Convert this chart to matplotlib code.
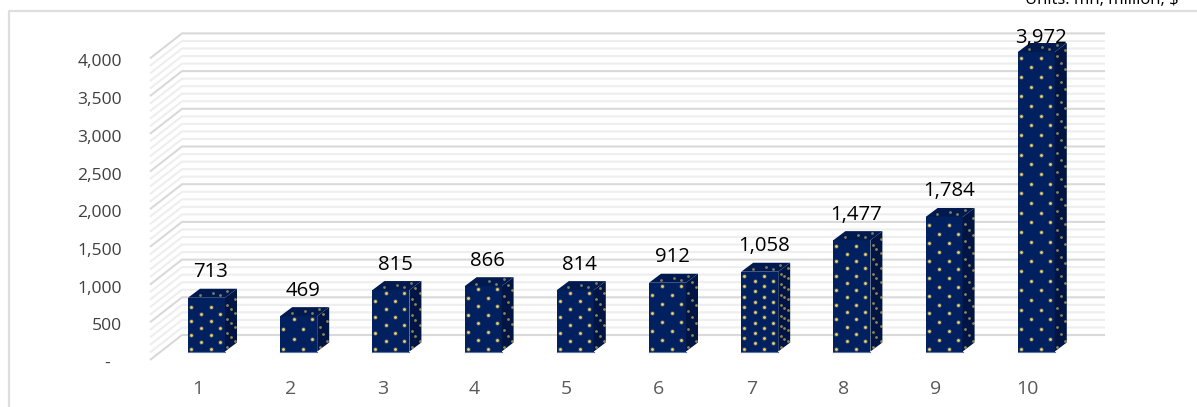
# -*- coding: utf-8 -*-
"""
Pseudo 3D column chart, drawn on one flat axes
"""
import numpy as np
import matplotlib
matplotlib.use("Agg")
import matplotlib.pyplot as plt
from matplotlib.patches import Polygon

#---------------------------------------------------
#-----------------------data------------------------
#---------------------------------------------------
categories = ["1", "2", "3", "4", "5", "6", "7", "8", "9", "10"]
values = [713, 469, 815, 866, 814, 912, 1058, 1477, 1784, 3972]
value_labels = ["713", "469", "815", "866", "814", "912", "1,058", "1,477", "1,784", "3,972"]
major_ticks = [0, 500, 1000, 1500, 2000, 2500, 3000, 3500, 4000]
major_labels = ["-", "500", "1,000", "1,500", "2,000", "2,500", "3,000", "3,500", "4,000"]
corner_text = "Units: mn, million, $"

#---------------------------------------------------
#-------------------configurations------------------
#---------------------------------------------------
W, H = 1197, 407
PX_PER_CAT = 92.2      # bar spacing in pixels
PX_PER_VAL = 0.0754    # pixels per unit
X1_PX = 206.5          # centre of bar 1 front face
Y0_PX = 351.5          # bottom of the bars

BAR_W = 37 / PX_PER_CAT
DX = 12 / PX_PER_CAT   # bar depth
DY = 9 / PX_PER_VAL

NAVY = "#002060"
NAVY_SIDE = "#001543"
NAVY_TOP = "#001a50"
DOT = "#efd36a"
# row distance of the dots in pixels, the fill is stretched per bar
dot_rows = [7.0, 10.0, 8.0, 8.5, 8.0, 8.9, 5.2, 7.3, 8.8, 9.7]

fig = plt.figure(figsize=(W / 100, H / 100), dpi=100)
ax = fig.add_axes([0, 0, 1, 1])
ax.set_xlim(1 - X1_PX / PX_PER_CAT, 1 + (W - X1_PX) / PX_PER_CAT)
ax.set_ylim((Y0_PX - H) / PX_PER_VAL, Y0_PX / PX_PER_VAL)
ax.axis("off")

def px_x(px):
    return 1 + (px - X1_PX) / PX_PER_CAT

def px_y(py):
    return (Y0_PX - py) / PX_PER_VAL

#----------------------frame------------------------
ax.plot([px_x(9), px_x(9), px_x(W + 5)], [px_y(H + 5), px_y(11), px_y(11)],
        color="#dedede", lw=1.6, solid_capstyle="butt", zorder=1)

#----------------------walls------------------------
front_x = px_x(150)
back_x = px_x(182)
end_x = px_x(1105)
front_y0 = px_y(360)     # value 0 on the side wall front edge
back_y0 = px_y(335)      # value 0 on the back wall

for v in np.arange(0, 4001, 100):
    if v % 500 == 0:
        color, lw, z = "#d9d9d9", 1.5, 3
    else:
        color, lw, z = "#eeeeee", 1.5, 2
    ax.plot([front_x, back_x, end_x], [front_y0 + v, back_y0 + v, back_y0 + v],
            color=color, lw=lw, solid_joinstyle="miter", solid_capstyle="butt", zorder=z)

#----------------------ticks------------------------
for v, lab in zip(major_ticks, major_labels):
    # the zero dash sits further left, like an accounting format
    right_px = 110 if v == 0 else 122
    ax.text(px_x(right_px), front_y0 + v - 4 / PX_PER_VAL, lab, ha="right", va="center",
            fontsize=12.6, family="Open Sans", color="#404040", zorder=6)

for i, lab in enumerate(categories):
    ax.text(i + 1 - 8.5 / PX_PER_CAT, px_y(389.5), lab, ha="center", va="center",
            fontsize=14, family="Open Sans", color="#595959", zorder=6)

#----------------------bars-------------------------
for i, v in enumerate(values):
    x0 = i + 1 - BAR_W / 2
    x1 = x0 + BAR_W
    front = Polygon([(x0, 0), (x1, 0), (x1, v), (x0, v)], fc=NAVY, ec="none", zorder=4)
    side = Polygon([(x1, 0), (x1 + DX, DY), (x1 + DX, v + DY), (x1, v)], fc=NAVY_SIDE, ec="none", zorder=4)
    top = Polygon([(x0, v), (x1, v), (x1 + DX, v + DY), (x0 + DX, v + DY)], fc=NAVY_TOP, ec="none", zorder=4)
    ax.add_patch(front)
    ax.add_patch(side)
    ax.add_patch(top)
    # thin light line under the front face
    ax.plot([x0, x1], [0, 0], color="#5b74a8", lw=0.8, zorder=5)

    # staggered dots on the faces, starting from the bottom
    row_step = dot_rows[i] / PX_PER_VAL
    rows = np.arange(3 / PX_PER_VAL, v - 2 / PX_PER_VAL, row_step)
    fx, fy, sx, sy = [], [], [], []
    for r, ry in enumerate(rows):
        for off in ([3.0, 23.0] if r % 2 == 0 else [13.3, 32.0]):
            fx.append(x0 + off / PX_PER_CAT)
            fy.append(ry)
        for frac in ([0.2, 0.85] if r % 2 == 0 else [0.5]):
            sx.append(x1 + frac * DX)
            sy.append(ry + frac * DY)
    ax.scatter(fx, fy, s=10, color=DOT, alpha=0.3, linewidths=0, zorder=5)
    ax.scatter(fx, fy, s=4, color=DOT, linewidths=0, zorder=5)
    ax.scatter(sx, sy, s=4, color=DOT, alpha=0.6, linewidths=0, zorder=5)
    # few dots on the top face
    for frac, off in [(0.3, 8.0), (0.55, 18.0), (0.75, 30.0), (0.3, 28.0)]:
        ax.scatter([x0 + (off + frac * 12) / PX_PER_CAT], [v + frac * DY], s=4, color=DOT,
                   alpha=0.55, linewidths=0, zorder=5)

    # value label, kept below the frame for the tall bar
    label_y = min(v + 25.5 / PX_PER_VAL, px_y(38))
    ax.text(i + 1 + 4.5 / PX_PER_CAT, label_y, value_labels[i], ha="center", va="center",
            fontsize=14.7, family="Open Sans", color="black", zorder=7)

#---------------clipped text at the top-------------
ax.text(px_x(1025), px_y(4), corner_text, ha="left", va="baseline",
        fontsize=12, family="Open Sans", color="black", zorder=7)

plt.savefig("out.png", dpi=100)
